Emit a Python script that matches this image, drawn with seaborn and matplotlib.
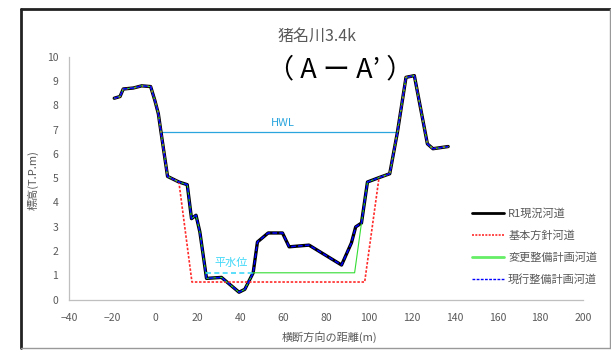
import numpy as np
import pandas as pd
import matplotlib
matplotlib.use("Agg")
import matplotlib.pyplot as plt
from matplotlib.lines import Line2D
import seaborn as sns

# ---- data ----
cur_x = [-19.0, -16.3, -14.8, -10.1, -6.2, -2.0, 0.0, 1.6, 2.8, 5.9, 11.2, 15.1, 17.1, 19.2, 21.0, 23.7,
         24.1, 31.1, 39.3, 42.0, 45.9, 47.9, 52.9, 59.6, 62.7, 72.0, 87.2, 91.8, 93.8, 96.5, 99.3,
         104.7, 109.7, 113.3, 117.3, 121.2, 127.3, 129.9, 137.0]
cur_y = [8.29, 8.36, 8.67, 8.71, 8.80, 8.77, 8.19, 7.65, 6.92, 5.07, 4.84, 4.73, 3.33, 3.47, 2.78, 1.12,
         0.87, 0.91, 0.30, 0.42, 1.10, 2.37, 2.74, 2.74, 2.17, 2.24, 1.42, 2.33, 2.99, 3.15, 4.84,
         5.02, 5.18, 6.89, 9.15, 9.22, 6.41, 6.21, 6.30]

kihon_mid_x = [11.2, 17.3, 98.0, 104.7]
kihon_mid_y = [4.84, 0.72, 0.72, 5.02]

henkou_mid_x = [45.9, 93.3, 96.5]
henkou_mid_y = [1.10, 1.10, 3.15]

hwl_x = [2.8, 113.3]
hwl_y = [6.90, 6.90]

heisui_x = [23.7, 45.9]
heisui_y = [1.10, 1.10]

labels = ["R1現況河道", "基本方針河道", "変更整備計画河道", "現行整備計画河道"]
title1 = "猪名川3.4k"
title2 = "（ A ー A’ ）"
xlabel = "横断方向の距離(m)"
ylabel = "標高(T.P.m)"
xticks = list(range(-40, 201, 20))
yticks = list(range(0, 11, 1))


def splice(x, y, mx, my):
    lo, hi = mx[0], mx[-1]
    xs = [a for a in x if a < lo] + list(mx) + [a for a in x if a > hi]
    ys = [b for a, b in zip(x, y) if a < lo] + list(my) + [b for a, b in zip(x, y) if a > hi]
    return xs, ys


kx, ky = splice(cur_x, cur_y, kihon_mid_x, kihon_mid_y)
hx, hy = splice(cur_x, cur_y, henkou_mid_x, henkou_mid_y)

df_cur = pd.DataFrame({"x": cur_x, "y": cur_y})
df_k = pd.DataFrame({"x": kx, "y": ky})
df_h = pd.DataFrame({"x": hx, "y": hy})

sns.set_theme(style="white")
plt.rcParams['font.family'] = ['Noto Sans CJK JP', 'DejaVu Sans']

fig = plt.figure(figsize=(6.11, 3.52), dpi=100)
ax = fig.add_axes([69.3 / 611, 1 - 299.5 / 352, (583 - 69.3) / 611, (299.5 - 56.7) / 352])

c_black = "#000000"
c_red = "#FF2A2A"
c_green = "#33DD33"
c_blue = "#0000FF"
c_hwl = "#2AA5DD"
c_heisui = "#3FD8F8"

sns.lineplot(data=df_cur, x="x", y="y", ax=ax, sort=False, color=c_black, lw=2.4, zorder=3)
sns.lineplot(data=df_k, x="x", y="y", ax=ax, sort=False, color=c_red, lw=1.2, zorder=4,
             linestyle=(0, (1.5, 1)))
sns.lineplot(data=df_h, x="x", y="y", ax=ax, sort=False, color=c_green, lw=0.8, zorder=5)
sns.lineplot(data=df_cur, x="x", y="y", ax=ax, sort=False, color=c_blue, lw=1.1, zorder=6,
             linestyle=(0, (3, 1.5)))

ax.plot(hwl_x, hwl_y, color=c_hwl, lw=0.9, zorder=2)
ax.plot(heisui_x, heisui_y, color=c_heisui, lw=1.2, linestyle=(0, (3, 2)), zorder=7)
ax.text(59.6, 7.25, "HWL", color=c_hwl, fontsize=8, ha="center", va="center")
ax.text(35.4, 1.5, "平水位", color=c_heisui, fontsize=8, ha="center", va="center")

ax.set_xlim(-40, 200)
ax.set_ylim(0, 10)
ax.set_xticks(xticks)
ax.set_yticks(yticks)
ax.tick_params(axis="both", length=0, labelsize=7.5, labelcolor="#595959")
ax.tick_params(axis="x", pad=10)
ax.tick_params(axis="y", pad=8)
for s in ["top", "right"]:
    ax.spines[s].set_visible(False)
for s in ["left", "bottom"]:
    ax.spines[s].set_color("#BFBFBF")
    ax.spines[s].set_linewidth(0.9)
ax.set_xlabel("")
ax.set_ylabel("")
ax.set_facecolor("none")

fig.text(329 / 611, 1 - 337 / 352, xlabel, ha="center", va="center", fontsize=8, color="#595959")
fig.text(33 / 611, 1 - 180 / 352, ylabel, ha="center", va="center", fontsize=8, color="#595959", rotation=90)
fig.text(317 / 611, 1 - 36 / 352, title1, ha="center", va="center", fontsize=11.5, color="#595959")
fig.text(340 / 611, 1 - 70 / 352, title2, ha="center", va="center", fontsize=19.5, color="#000000")

handles = [
    Line2D([], [], color=c_black, lw=2.0),
    Line2D([], [], color=c_red, lw=1.2, linestyle=(0, (1.2, 0.8))),
    Line2D([], [], color="#66EE66", lw=2.0),
    Line2D([], [], color=c_blue, lw=1.0, linestyle=(0, (2, 1))),
]
leg = fig.legend(handles, labels, loc="upper left", bbox_to_anchor=(472 / 611, 1 - 208 / 352),
                 frameon=False, fontsize=8, handlelength=2.9, handletextpad=0.35,
                 labelspacing=1.02, borderpad=0, borderaxespad=0)
for t in leg.get_texts():
    t.set_color("#595959")

# figure border
fig.add_artist(Line2D([21 / 611, 21 / 611], [1 - 9 / 352, 1 - 348 / 352], color="#222222", lw=2))
fig.add_artist(Line2D([21 / 611, 610 / 611], [1 - 9 / 352, 1 - 9 / 352], color="#222222", lw=2))
fig.add_artist(Line2D([610 / 611, 610 / 611], [1 - 9 / 352, 1 - 348 / 352], color="#999999", lw=1))
fig.add_artist(Line2D([21 / 611, 610 / 611], [1 - 348 / 352, 1 - 348 / 352], color="#999999", lw=1))

fig.savefig("out.png", dpi=100)
